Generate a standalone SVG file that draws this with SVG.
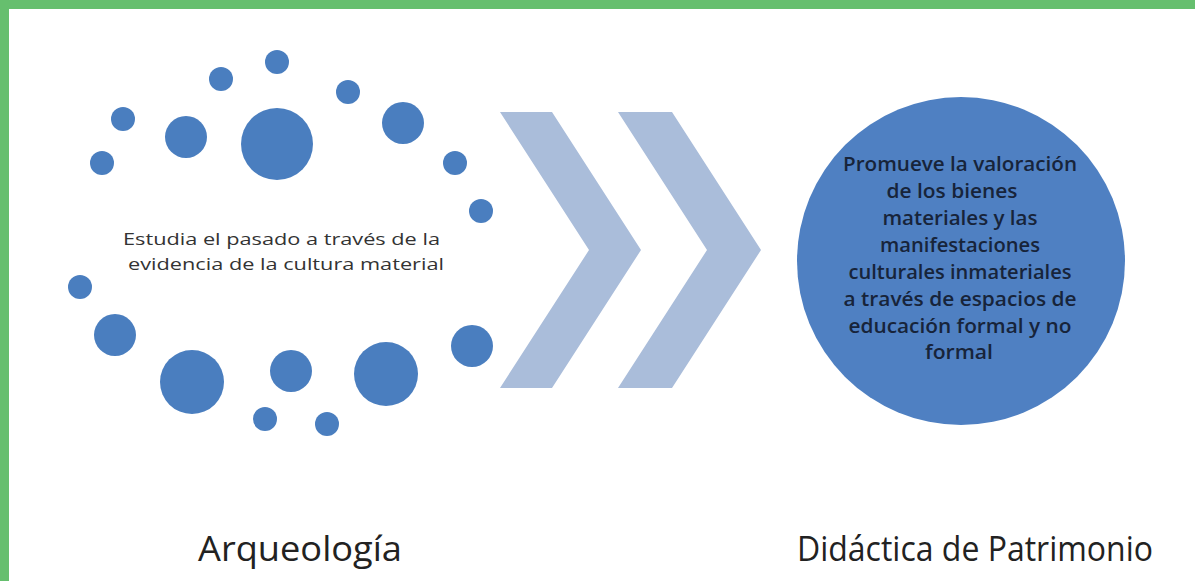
<svg xmlns="http://www.w3.org/2000/svg" width="1195" height="581" viewBox="0 0 1195 581">
  <style>
    .dot { fill: #4a7ebf; }
    .chev { fill: #aabdda; }
    .big { fill: #4f80c2; }
    .t { font-family: "Open Sans", "Noto Sans", "DejaVu Sans", sans-serif; }
    .body { font-size: 17px; fill: #333333; }
    .inner { font-size: 20px; font-weight: 600; fill: #17243a; text-anchor: middle; }
    .label { font-size: 34px; fill: #222222; }
  </style>
  <rect x="0" y="0" width="1195" height="581" fill="#ffffff"/>
  <g id="border">
    <rect x="0" y="0" width="1195" height="9" fill="#66bf6e"/>
    <rect x="0" y="0" width="9" height="581" fill="#66bf6e"/>
  </g>
  <g id="arqueologia">
    <circle class="dot" cx="277" cy="62" r="12"/>
    <circle class="dot" cx="221" cy="79" r="12"/>
    <circle class="dot" cx="348" cy="92" r="12"/>
    <circle class="dot" cx="123" cy="119" r="12"/>
    <circle class="dot" cx="186" cy="137" r="21"/>
    <circle class="dot" cx="277" cy="144" r="36"/>
    <circle class="dot" cx="403" cy="123" r="21"/>
    <circle class="dot" cx="102" cy="163" r="12"/>
    <circle class="dot" cx="455" cy="163" r="12"/>
    <circle class="dot" cx="481" cy="211" r="12"/>
    <circle class="dot" cx="80" cy="287" r="12"/>
    <circle class="dot" cx="115" cy="335" r="21"/>
    <circle class="dot" cx="472" cy="346" r="21"/>
    <circle class="dot" cx="192" cy="382" r="32"/>
    <circle class="dot" cx="291" cy="371" r="21"/>
    <circle class="dot" cx="386" cy="374" r="32"/>
    <circle class="dot" cx="265" cy="419" r="12"/>
    <circle class="dot" cx="327" cy="424" r="12"/>
    <text class="t body" x="123" y="245" textLength="317" lengthAdjust="spacingAndGlyphs">Estudia el pasado a través de la</text>
    <text class="t body" x="128" y="270" textLength="316" lengthAdjust="spacingAndGlyphs">evidencia de la cultura material</text>
  </g>
  <g id="connectors">
    <polygon class="chev" points="500,112 552,112 641,250 552,388 500,388 589,250"/>
    <polygon class="chev" points="618,112 672,112 761,250 672,388 618,388 707,250"/>
  </g>
  <g id="didactica">
    <circle class="big" cx="961" cy="261" r="164"/>
    <text class="t inner" x="960" y="171" textLength="234" lengthAdjust="spacingAndGlyphs">Promueve la valoración</text>
    <text class="t inner" x="952" y="198" textLength="131" lengthAdjust="spacingAndGlyphs">de los bienes</text>
    <text class="t inner" x="960" y="225" textLength="155" lengthAdjust="spacingAndGlyphs">materiales y las</text>
    <text class="t inner" x="960" y="252" textLength="160" lengthAdjust="spacingAndGlyphs">manifestaciones</text>
    <text class="t inner" x="960" y="279" textLength="223" lengthAdjust="spacingAndGlyphs">culturales inmateriales</text>
    <text class="t inner" x="960" y="306" textLength="233" lengthAdjust="spacingAndGlyphs">a través de espacios de</text>
    <text class="t inner" x="960" y="333" textLength="223" lengthAdjust="spacingAndGlyphs">educación formal y no</text>
    <text class="t inner" x="959" y="359" textLength="68" lengthAdjust="spacingAndGlyphs">formal</text>
  </g>
  <g id="labels">
    <text class="t label" x="198" y="561" textLength="204" lengthAdjust="spacingAndGlyphs">Arqueología</text>
    <text class="t label" x="797" y="561" textLength="356" lengthAdjust="spacingAndGlyphs">Didáctica de Patrimonio</text>
  </g>
</svg>
